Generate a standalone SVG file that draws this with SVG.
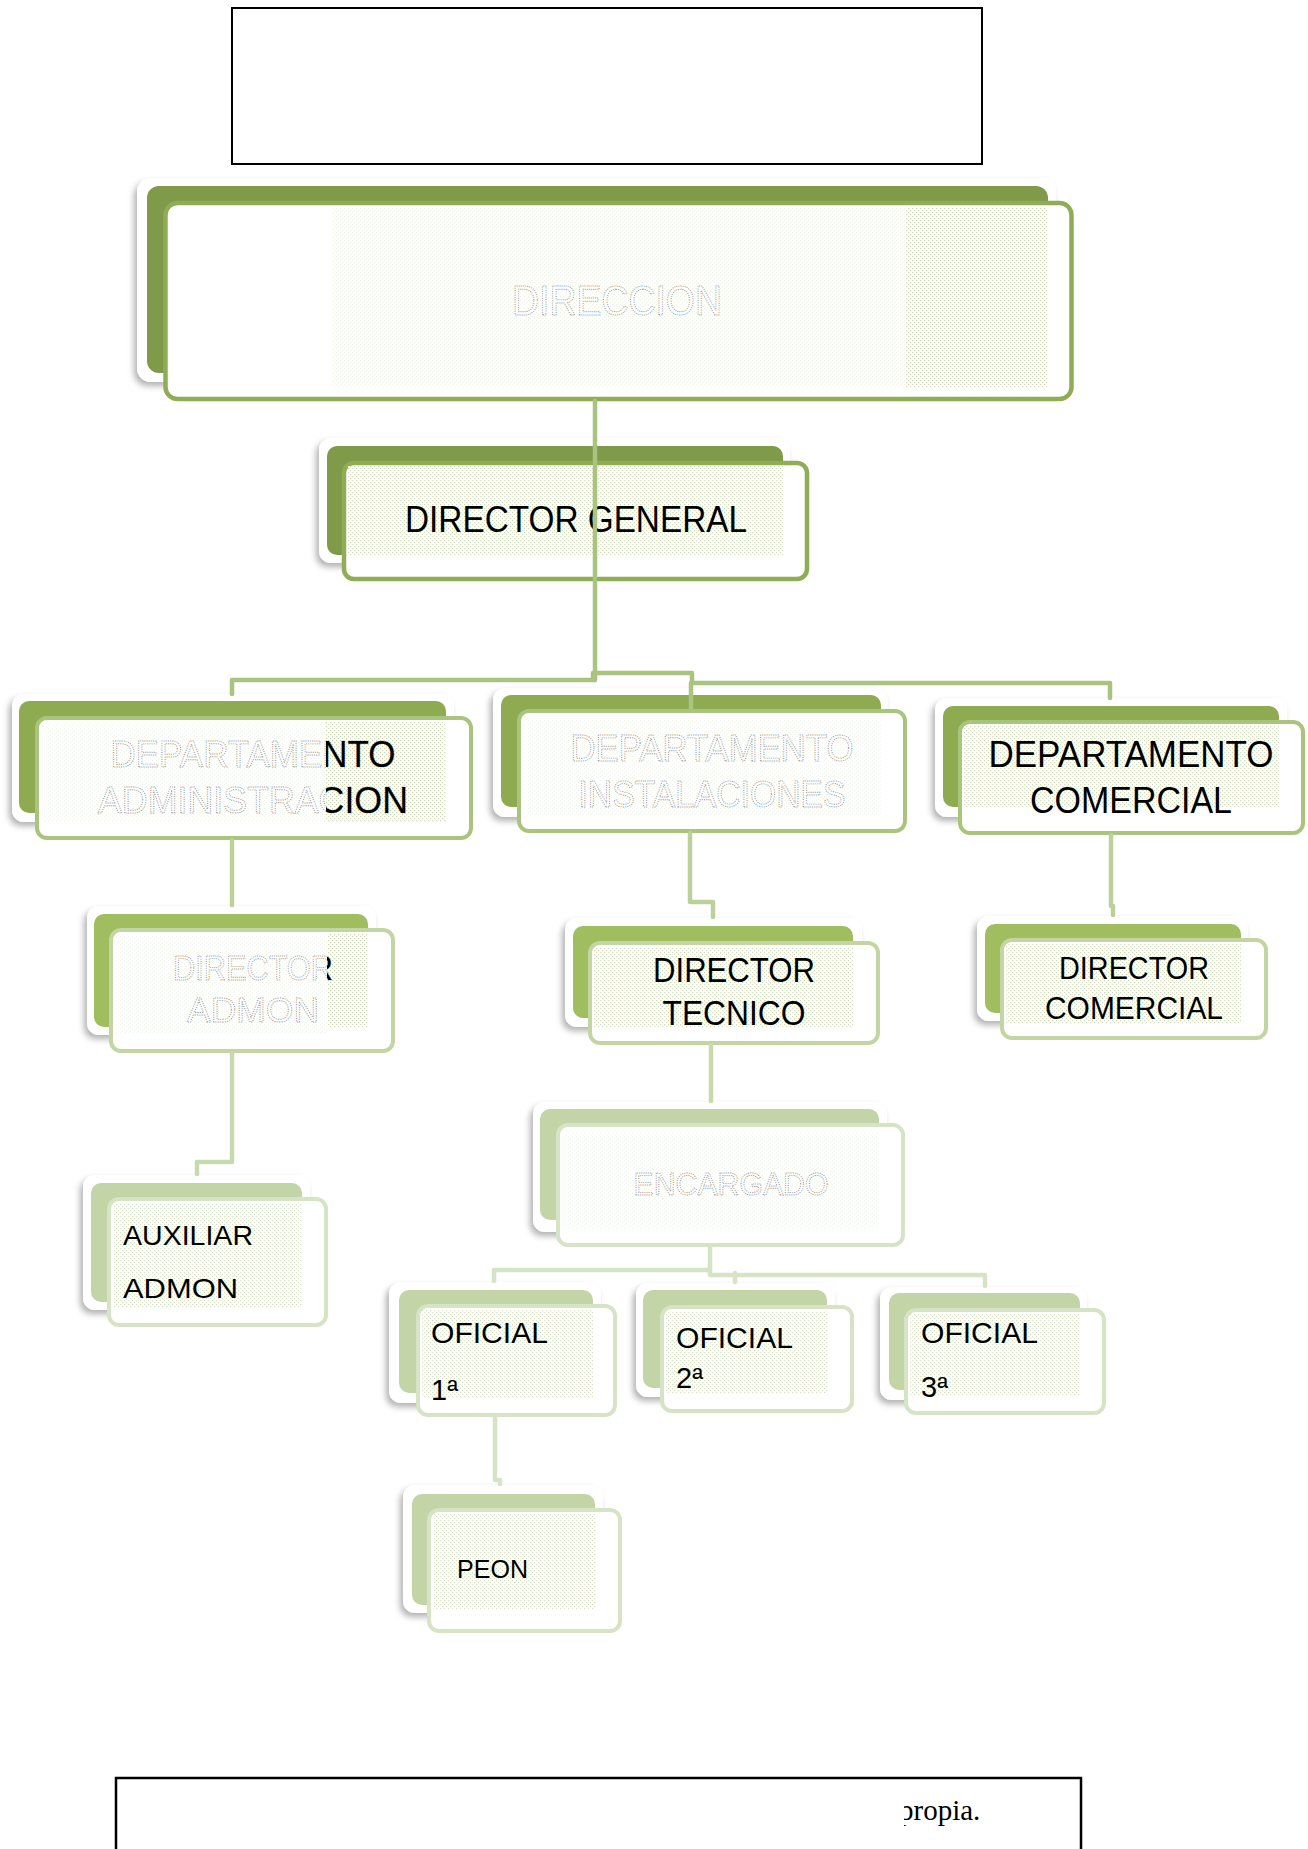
<svg xmlns="http://www.w3.org/2000/svg" width="1308" height="1849" viewBox="0 0 1308 1849">
<style>
.halo{fill:#fff;filter:url(#sh)}
.d0{fill:#7f9a48}.d1{fill:#8fab52}.d2{fill:#a0bd60}.d3{fill:#c3d4a7}
.f{fill:#fff}
.f0{stroke:#8fad55;stroke-width:4.5}.f1{stroke:#a9c47c;stroke-width:4}.f2{stroke:#c3d5a3;stroke-width:4}.f3{stroke:#d6e3c5;stroke-width:4}
.t{font-family:"Liberation Sans",Arial,sans-serif;fill:#000}
.g{font-family:"Liberation Sans",Arial,sans-serif;fill:#fff;stroke:#8a8a8a;stroke-width:0.9;stroke-dasharray:1 1.3}
.c{fill:none;stroke-linejoin:round;stroke-linecap:round}
.c0{stroke:#a9c47f;stroke-width:4.5}.c1{stroke:#bcd19a;stroke-width:4.5}.c2{stroke:#c9d9ae;stroke-width:4.5}.c3{stroke:#d6e3c6;stroke-width:4.5}
</style>
<defs>
<filter id="sh" x="-10%" y="-10%" width="120%" height="130%">
<feDropShadow dx="-3" dy="4" stdDeviation="3" flood-color="#000" flood-opacity="0.3"/>
</filter>
<pattern id="dots" width="4" height="4" patternUnits="userSpaceOnUse">
<rect width="4" height="4" fill="#fff"/>
<rect x="0" y="0" width="1.2" height="1.2" fill="#c4d3a8"/>
<rect x="2" y="2" width="1.2" height="1.2" fill="#c4d3a8"/>
</pattern>
<clipPath id="clipAdm"><rect x="326" y="700" width="150" height="140"/></clipPath>
<clipPath id="clipDirAdm"><rect x="327" y="920" width="70" height="120"/></clipPath>
<clipPath id="clipProp"><rect x="904" y="1780" width="180" height="60"/></clipPath>
</defs>
<rect width="1308" height="1849" fill="#fff"/>

<g id="top-box"><rect x="232" y="8" width="750" height="156" fill="#fff" stroke="#000" stroke-width="2"/></g>

<g id="n-direccion">
<rect class="halo" x="137" y="178" width="919" height="204" rx="14"/>
<rect class="d0" x="147" y="186" width="901" height="187" rx="12"/>
<rect class="f f0" x="165.5" y="203" width="906" height="196" rx="12"/>
<rect x="331" y="207" width="575" height="180" fill="url(#dots)" opacity="0.25"/>
<rect x="906" y="207" width="141" height="180" fill="url(#dots)" opacity="0.9"/>
<text class="g" x="617" y="315" font-size="42" text-anchor="middle" textLength="210" lengthAdjust="spacingAndGlyphs">DIRECCION</text>
</g>

<g id="n-director-general">
<rect class="halo" x="319" y="438" width="471" height="125" rx="12"/>
<rect class="d0" x="327" y="446" width="456" height="109" rx="10"/>
<rect class="f f0" x="344" y="463" width="463" height="116" rx="10"/>
<rect x="348" y="466" width="435" height="89" fill="url(#dots)" opacity="0.8"/>
<text class="t" x="576" y="532" font-size="36" text-anchor="middle" textLength="342" lengthAdjust="spacingAndGlyphs">DIRECTOR GENERAL</text>
</g>

<g id="n-dep-admin">
<rect class="halo" x="12" y="694" width="442" height="128" rx="12"/>
<rect class="d1" x="19" y="701" width="427" height="112" rx="10"/>
<rect class="f f1" x="37" y="718" width="434" height="120" rx="10"/>
<rect x="41" y="722" width="285" height="100" fill="url(#dots)" opacity="0.2"/>
<rect x="326" y="722" width="120" height="100" fill="url(#dots)" opacity="0.9"/>
<text class="g" x="253" y="767" font-size="37" text-anchor="middle" textLength="285" lengthAdjust="spacingAndGlyphs">DEPARTAMENTO</text>
<text class="g" x="253" y="813" font-size="37" text-anchor="middle" textLength="310" lengthAdjust="spacingAndGlyphs">ADMINISTRACION</text>
<g clip-path="url(#clipAdm)">
<text class="t" x="253" y="767" font-size="37" text-anchor="middle" textLength="285" lengthAdjust="spacingAndGlyphs">DEPARTAMENTO</text>
<text class="t" x="253" y="813" font-size="37" text-anchor="middle" textLength="310" lengthAdjust="spacingAndGlyphs">ADMINISTRACION</text>
</g>
</g>

<g id="n-dep-inst">
<rect class="halo" x="493" y="688" width="395" height="129" rx="12"/>
<rect class="d1" x="501" y="695" width="380" height="112" rx="10"/>
<rect class="f f1" x="519" y="711" width="386" height="120" rx="10"/>
<rect x="523" y="715" width="358" height="100" fill="url(#dots)" opacity="0.2"/>
<text class="g" x="712" y="761" font-size="36" text-anchor="middle" textLength="283" lengthAdjust="spacingAndGlyphs">DEPARTAMENTO</text>
<text class="g" x="712" y="807" font-size="36" text-anchor="middle" textLength="267" lengthAdjust="spacingAndGlyphs">INSTALACIONES</text>
</g>

<g id="n-dep-com">
<rect class="halo" x="935" y="698" width="352" height="119" rx="12"/>
<rect class="d1" x="943" y="706" width="336" height="101" rx="10"/>
<rect class="f f1" x="960" y="722" width="343" height="111" rx="10"/>
<rect x="964" y="726" width="315" height="81" fill="url(#dots)" opacity="0.8"/>
<text class="t" x="1131" y="767" font-size="36" text-anchor="middle" textLength="285" lengthAdjust="spacingAndGlyphs">DEPARTAMENTO</text>
<text class="t" x="1131" y="813" font-size="36" text-anchor="middle" textLength="202" lengthAdjust="spacingAndGlyphs">COMERCIAL</text>
</g>

<g id="n-dir-admon">
<rect class="halo" x="87" y="906" width="289" height="129" rx="12"/>
<rect class="d2" x="94" y="914" width="274" height="113" rx="10"/>
<rect class="f f2" x="111" y="930" width="282" height="121" rx="10"/>
<rect x="115" y="934" width="213" height="100" fill="url(#dots)" opacity="0.2"/>
<rect x="328" y="934" width="40" height="93" fill="url(#dots)" opacity="0.9"/>
<text class="g" x="253" y="980" font-size="35" text-anchor="middle" textLength="160" lengthAdjust="spacingAndGlyphs">DIRECTOR</text>
<text class="g" x="253" y="1022" font-size="35" text-anchor="middle" textLength="132" lengthAdjust="spacingAndGlyphs">ADMON</text>
<g clip-path="url(#clipDirAdm)">
<text class="t" x="253" y="980" font-size="35" text-anchor="middle" textLength="160" lengthAdjust="spacingAndGlyphs">DIRECTOR</text>
</g>
</g>

<g id="n-dir-tec">
<rect class="halo" x="565" y="918" width="297" height="109" rx="12"/>
<rect class="d2" x="573" y="926" width="280" height="92" rx="10"/>
<rect class="f f2" x="590" y="943" width="288" height="100" rx="10"/>
<rect x="594" y="947" width="259" height="80" fill="url(#dots)" opacity="0.8"/>
<text class="t" x="734" y="982" font-size="35" text-anchor="middle" textLength="162" lengthAdjust="spacingAndGlyphs">DIRECTOR</text>
<text class="t" x="734" y="1025" font-size="35" text-anchor="middle" textLength="143" lengthAdjust="spacingAndGlyphs">TECNICO</text>
</g>

<g id="n-dir-com">
<rect class="halo" x="977" y="916" width="271" height="105" rx="12"/>
<rect class="d2" x="985" y="924" width="256" height="89" rx="10"/>
<rect class="f f2" x="1002" y="940" width="264" height="98" rx="10"/>
<rect x="1006" y="944" width="235" height="80" fill="url(#dots)" opacity="0.8"/>
<text class="t" x="1134" y="979" font-size="32" text-anchor="middle" textLength="150" lengthAdjust="spacingAndGlyphs">DIRECTOR</text>
<text class="t" x="1134" y="1019" font-size="32" text-anchor="middle" textLength="178" lengthAdjust="spacingAndGlyphs">COMERCIAL</text>
</g>

<g id="n-encargado">
<rect class="halo" x="533" y="1102" width="354" height="130" rx="12"/>
<rect class="d3" x="540" y="1109" width="339" height="111" rx="10"/>
<rect class="f f3" x="558" y="1125" width="345" height="120" rx="10"/>
<rect x="562" y="1129" width="317" height="100" fill="url(#dots)" opacity="0.2"/>
<text class="g" x="731" y="1195" font-size="32" text-anchor="middle" textLength="195" lengthAdjust="spacingAndGlyphs">ENCARGADO</text>
</g>

<g id="n-auxiliar">
<rect class="halo" x="83" y="1175" width="227" height="135" rx="12"/>
<rect class="d3" x="91" y="1183" width="211" height="119" rx="10"/>
<rect class="f f3" x="109" y="1199" width="217" height="126" rx="10"/>
<rect x="113" y="1203" width="189" height="105" fill="url(#dots)" opacity="0.7"/>
<text class="t" x="123" y="1245" font-size="28" textLength="130" lengthAdjust="spacingAndGlyphs">AUXILIAR</text>
<text class="t" x="123" y="1298" font-size="28" textLength="115" lengthAdjust="spacingAndGlyphs">ADMON</text>
</g>

<g id="n-oficial1">
<rect class="halo" x="389" y="1282" width="212" height="121" rx="12"/>
<rect class="d3" x="399" y="1290" width="194" height="103" rx="10"/>
<rect class="f f3" x="418" y="1306" width="197" height="109" rx="10"/>
<rect x="422" y="1310" width="171" height="88" fill="url(#dots)" opacity="0.7"/>
<text class="t" x="431" y="1343" font-size="29" textLength="117" lengthAdjust="spacingAndGlyphs">OFICIAL</text>
<text class="t" x="431" y="1400" font-size="29">1ª</text>
</g>

<g id="n-oficial2">
<rect class="halo" x="636" y="1283" width="199" height="114" rx="12"/>
<rect class="d3" x="643" y="1290" width="184" height="98" rx="10"/>
<rect class="f f3" x="662" y="1307" width="190" height="104" rx="10"/>
<rect x="666" y="1311" width="161" height="82" fill="url(#dots)" opacity="0.7"/>
<text class="t" x="676" y="1348" font-size="29" textLength="117" lengthAdjust="spacingAndGlyphs">OFICIAL</text>
<text class="t" x="676" y="1388" font-size="29">2ª</text>
</g>

<g id="n-oficial3">
<rect class="halo" x="880" y="1287" width="207" height="113" rx="12"/>
<rect class="d3" x="889" y="1293" width="191" height="97" rx="10"/>
<rect class="f f3" x="906" y="1310" width="198" height="103" rx="10"/>
<rect x="910" y="1314" width="170" height="82" fill="url(#dots)" opacity="0.7"/>
<text class="t" x="921" y="1343" font-size="29" textLength="117" lengthAdjust="spacingAndGlyphs">OFICIAL</text>
<text class="t" x="921" y="1397" font-size="29">3ª</text>
</g>

<g id="n-peon">
<rect class="halo" x="403" y="1485" width="200" height="128" rx="12"/>
<rect class="d3" x="412" y="1494" width="183" height="111" rx="10"/>
<rect class="f f3" x="429" y="1510" width="191" height="121" rx="10"/>
<rect x="433" y="1514" width="162" height="96" fill="url(#dots)" opacity="0.7"/>
<text class="t" x="457" y="1578" font-size="25" textLength="71" lengthAdjust="spacingAndGlyphs">PEON</text>
</g>

<g id="connectors">
<path class="c c0" d="M595,401 V680"/>
<path class="c c0" d="M232,694 V680 H595"/>
<path class="c c0" d="M593,680 V673 H692 V683 H1110 V698"/>
<path class="c c0" d="M691,683 V709"/>
<path class="c c1" d="M232,840 V905"/>
<path class="c c1" d="M690,833 V902 H713 V917"/>
<path class="c c1" d="M1111,835 V906 H1113 V915"/>
<path class="c c2" d="M232,1053 V1162 H197 V1174"/>
<path class="c c2" d="M711,1045 V1101"/>
<path class="c c3" d="M710,1247 V1270 H494 V1281"/>
<path class="c c3" d="M710,1270 V1275 H985 V1286"/>
<path class="c c3" d="M735,1273 V1282"/>
<path class="c c3" d="M495,1417 V1480 H500 V1484"/>
</g>

<g id="bottom-box">
<rect x="116" y="1778" width="965" height="100" fill="#fff" stroke="#000" stroke-width="2.5"/>
<g clip-path="url(#clipProp)">
<text x="899" y="1820" font-family="Liberation Serif, Times New Roman, serif" font-size="29" fill="#000">propia.</text>
</g>
</g>
</svg>
